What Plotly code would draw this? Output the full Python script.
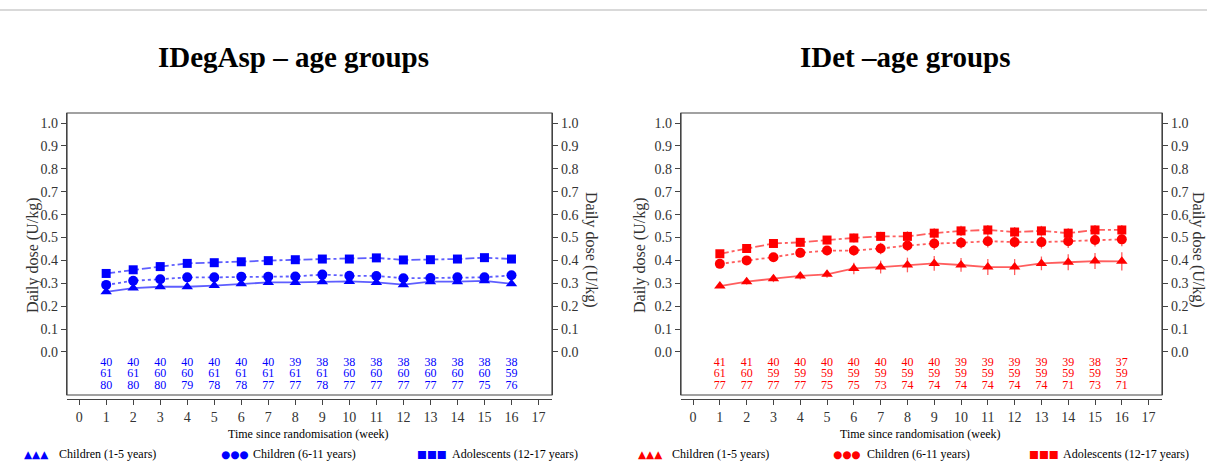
import plotly.graph_objects as go

W, H = 1207, 470
weeks = list(range(1, 17))
x_ticks = list(range(0, 18))
y_ticks = [round(0.1 * i, 1) for i in range(11)]

group_labels = ["Children (1-5 years)", "Children (6-11 years)", "Adolescents (12-17 years)"]

# IDegAsp daily dose (U/kg)
degasp_1_5 = [0.263, 0.279, 0.285, 0.285, 0.290, 0.298, 0.304, 0.304, 0.307, 0.308, 0.304, 0.294, 0.307, 0.307, 0.311, 0.298]
degasp_6_11 = [0.293, 0.311, 0.318, 0.326, 0.326, 0.329, 0.329, 0.330, 0.338, 0.333, 0.332, 0.322, 0.323, 0.326, 0.326, 0.335]
degasp_12_17 = [0.343, 0.359, 0.373, 0.387, 0.390, 0.394, 0.399, 0.403, 0.406, 0.406, 0.411, 0.402, 0.403, 0.406, 0.412, 0.406]
degasp_err_1_5 = [0.008] * 16
degasp_err_6_11 = [0.010] * 16
degasp_err_12_17 = [0.008] * 16

# IDet daily dose (U/kg)
det_1_5 = [0.288, 0.307, 0.320, 0.332, 0.339, 0.365, 0.371, 0.380, 0.387, 0.380, 0.371, 0.371, 0.387, 0.392, 0.397, 0.396]
det_6_11 = [0.385, 0.400, 0.414, 0.433, 0.443, 0.443, 0.452, 0.465, 0.474, 0.477, 0.484, 0.480, 0.480, 0.484, 0.489, 0.492]
det_12_17 = [0.429, 0.452, 0.474, 0.479, 0.489, 0.498, 0.505, 0.505, 0.519, 0.529, 0.533, 0.524, 0.529, 0.519, 0.533, 0.533]
det_err_1_5 = [0.008, 0.012, 0.015, 0.015, 0.015, 0.025, 0.028, 0.032, 0.032, 0.030, 0.035, 0.035, 0.030, 0.035, 0.035, 0.040]
det_err_6_11 = [0.012, 0.015, 0.018, 0.020, 0.020, 0.022, 0.025, 0.025, 0.028, 0.025, 0.028, 0.025, 0.028, 0.030, 0.028, 0.030]
det_err_12_17 = [0.012, 0.015, 0.018, 0.018, 0.018, 0.020, 0.020, 0.022, 0.022, 0.022, 0.022, 0.022, 0.022, 0.022, 0.022, 0.022]

# Number of subjects per week
degasp_n_1_5 = [40, 40, 40, 40, 40, 40, 40, 39, 38, 38, 38, 38, 38, 38, 38, 38]
degasp_n_6_11 = [61, 61, 60, 60, 61, 61, 61, 61, 61, 60, 60, 60, 60, 60, 60, 59]
degasp_n_12_17 = [80, 80, 80, 79, 78, 78, 77, 77, 78, 77, 77, 77, 77, 77, 75, 76]
det_n_1_5 = [41, 41, 40, 40, 40, 40, 40, 40, 40, 39, 39, 39, 39, 39, 38, 37]
det_n_6_11 = [61, 60, 59, 59, 59, 59, 59, 59, 59, 59, 59, 59, 59, 59, 59, 59]
det_n_12_17 = [77, 77, 77, 77, 75, 75, 73, 74, 74, 74, 74, 74, 74, 71, 73, 71]


def px(x):
    return x / W


def py(y):
    return 1 - y / H


SERIF = "Liberation Serif"
AX = "#444444"
TXT = "#333333"

panels = [
    dict(title="IDegAsp – age groups", color="#0000FF", line="rgba(40,40,255,0.75)",
         vals=[degasp_1_5, degasp_6_11, degasp_12_17],
         errs=[degasp_err_1_5, degasp_err_6_11, degasp_err_12_17],
         ns=[degasp_n_1_5, degasp_n_6_11, degasp_n_12_17],
         x0=67, x1=552, tx=293, ylab_l=33, ylab_r=591,
         leg=[(22, 57), (219, 251), (415, 450)]),
    dict(title="IDet –age groups", color="#FF0000", line="rgba(255,40,40,0.75)",
         vals=[det_1_5, det_6_11, det_12_17],
         errs=[det_err_1_5, det_err_6_11, det_err_12_17],
         ns=[det_n_1_5, det_n_6_11, det_n_12_17],
         x0=681, x1=1162, tx=905, ylab_l=640, ylab_r=1198,
         leg=[(636, 670), (831, 865), (1027, 1061)]),
]

symbols = ["triangle-up", "circle", "square"]
msizes = [10, 10, 9]
dashes = ["solid", "dot", "dashdot"]
glyphs = ["▲▲▲", "●●●", "■■■"]
n_rows_y = [-0.046, -0.098, -0.150]

fig = go.Figure()
layout = dict(
    width=W, height=H, margin=dict(l=0, r=0, t=0, b=0),
    paper_bgcolor="white", plot_bgcolor="white", showlegend=False,
    font=dict(family=SERIF, color=TXT),
)
annotations = []
shapes = [dict(type="line", xref="paper", yref="paper", x0=0, x1=1, y0=py(10), y1=py(10),
               line=dict(color="#cccccc", width=1.5))]

YR = [-0.188, 1.044]
for i, p in enumerate(panels):
    k = i + 1
    xa = "x" if k == 1 else f"x{k}"
    ya = "y" if k == 1 else f"y{k}"
    yr_name = f"y{k + 2}"
    for j in range(3):
        fig.add_trace(go.Scatter(
            x=weeks, y=p["vals"][j], xaxis=xa, yaxis=ya, mode="lines+markers",
            line=dict(color=p["line"], width=1.8, dash=dashes[j]),
            marker=dict(symbol=symbols[j], size=msizes[j], color=p["color"]),
            error_y=dict(type="data", array=p["errs"][j], color=p["line"], thickness=1.3, width=0),
        ))
        fig.add_trace(go.Scatter(
            x=weeks, y=[n_rows_y[j]] * len(weeks), xaxis=xa, yaxis=ya, mode="text",
            text=[str(v) for v in p["ns"][j]], textposition="middle center",
            textfont=dict(family=SERIF, size=12, color=p["color"]), cliponaxis=False,
        ))
    # invisible trace so the right-hand axis is drawn
    fig.add_trace(go.Scatter(
        x=weeks, y=p["vals"][0], xaxis=xa, yaxis=yr_name, mode="markers",
        marker=dict(opacity=0, size=1), hoverinfo="skip",
    ))
    dom_x = [px(p["x0"]), px(p["x1"])]
    dom_y = [py(395), py(113)]
    layout[f"xaxis{k if k > 1 else ''}"] = dict(
        domain=dom_x, range=[-0.45, 17.5], anchor="free", position=py(399),
        tickvals=x_ticks, ticks="outside", ticklen=5, tickcolor=AX, showline=True,
        linecolor=AX, linewidth=1.2, showgrid=False, zeroline=False,
        tickfont=dict(family=SERIF, size=14, color=TXT),
    )
    ycommon = dict(
        domain=dom_y, range=YR, tickvals=y_ticks, ticktext=[f"{v:.1f}" for v in y_ticks],
        ticks="outside", ticklen=5, tickcolor=AX, showline=True, linecolor=AX, linewidth=1.2,
        showgrid=False, zeroline=False, tickfont=dict(family=SERIF, size=14, color=TXT),
    )
    layout[f"yaxis{k if k > 1 else ''}"] = dict(ycommon, anchor=xa)
    layout[f"yaxis{k + 2}"] = dict(ycommon, anchor=xa, overlaying=ya, side="right")
    # frame
    shapes.append(dict(type="rect", xref=f"{xa} domain", yref=f"{ya} domain", x0=0, x1=1, y0=0, y1=1,
                       line=dict(color=AX, width=1.2)))
    # title
    annotations.append(dict(text=f"<b>{p['title']}</b>", xref="paper", yref="paper",
                            x=px(p["tx"]), y=py(57), showarrow=False, xanchor="center", yanchor="middle",
                            font=dict(family=SERIF, size=29, color="black")))
    # y titles
    annotations.append(dict(text="Daily dose (U/kg)", xref="paper", yref="paper", x=px(p["ylab_l"]),
                            y=py(255), textangle=-90, showarrow=False, xanchor="center", yanchor="middle",
                            font=dict(family=SERIF, size=16, color=TXT)))
    annotations.append(dict(text="Daily dose (U/kg)", xref="paper", yref="paper", x=px(p["ylab_r"]),
                            y=py(250), textangle=90, showarrow=False, xanchor="center", yanchor="middle",
                            font=dict(family=SERIF, size=16, color=TXT)))
    # x title
    annotations.append(dict(text="Time since randomisation (week)", xref=xa, yref="paper", x=8.5,
                            y=py(434), showarrow=False, xanchor="center", yanchor="middle",
                            font=dict(family=SERIF, size=12, color="black")))
    # legend
    for j in range(3):
        gx, tx = p["leg"][j]
        annotations.append(dict(text=glyphs[j], xref="paper", yref="paper", x=px(gx), y=py(454),
                                showarrow=False, xanchor="left", yanchor="middle",
                                font=dict(family="DejaVu Sans", size=10.5, color=p["color"])))
        annotations.append(dict(text=group_labels[j], xref="paper", yref="paper", x=px(tx), y=py(454),
                                showarrow=False, xanchor="left", yanchor="middle",
                                font=dict(family=SERIF, size=12, color="black")))

layout["annotations"] = annotations
layout["shapes"] = shapes
fig.update_layout(**layout)
fig.write_html("out.html")
